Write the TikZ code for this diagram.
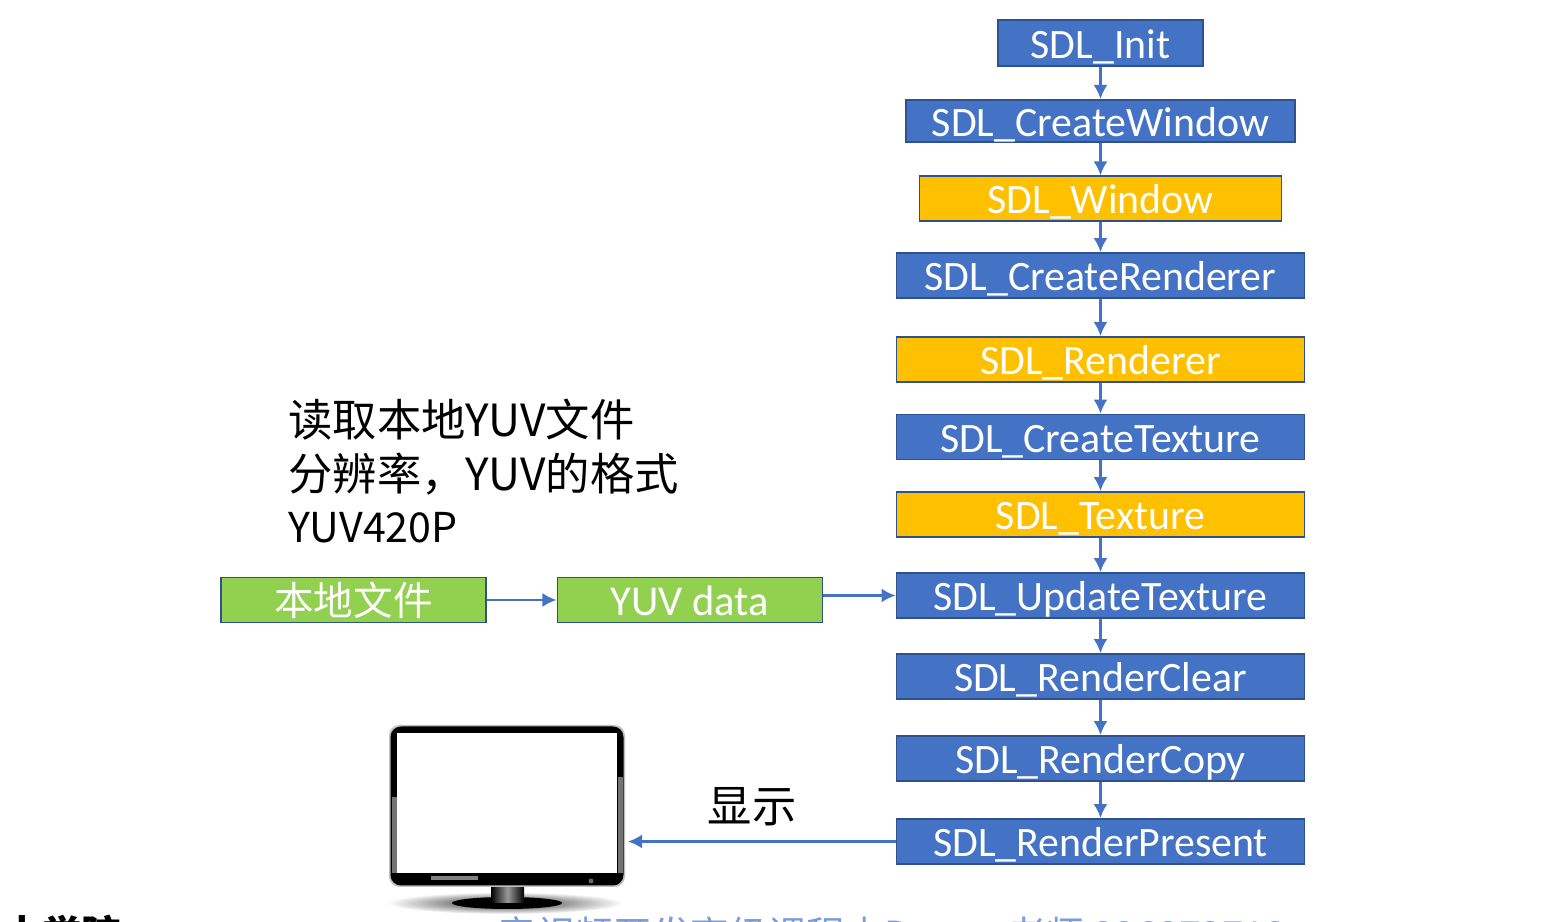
\documentclass[tikz,border=0pt]{standalone}
\usepackage{fontspec}
\usepackage{tikz}
\usetikzlibrary{arrows.meta}
\setmainfont{Carlito}
\newfontfamily\cjk{Noto Sans CJK SC}
\definecolor{sdlblue}{RGB}{68,114,196}
\definecolor{sdledge}{RGB}{47,82,143}
\definecolor{sdlgold}{RGB}{255,192,0}
\definecolor{sdlgreen}{RGB}{146,208,80}
\tikzset{
  sdlbox/.style={draw=sdledge,line width=0.5pt,inner sep=0pt,text=white,text height=8.8pt,text depth=0pt,font=\fontsize{11.9}{15}\selectfont},
  callbox/.style={sdlbox,fill=sdlblue},
  objbox/.style={sdlbox,fill=sdlgold},
  filebox/.style={sdlbox,fill=sdlgreen},
  flow/.style={draw=sdlblue,line width=0.7pt,-{Latex[length=4pt,width=4pt]}},
  note/.style={anchor=west,font=\cjk\fontsize{12.6}{15}\selectfont},
}
\begin{document}
\begin{tikzpicture}[x=0.01cm,y=-0.01cm]
\path[use as bounding box] (0,0) rectangle (1553,922);
\clip (0,0) rectangle (1553,922);

\node[callbox,minimum width=58.2pt,minimum height=13pt] (init) at (1100.5,43) {SDL\_Init};
\node[callbox,minimum width=110.5pt,minimum height=12pt] (cwin) at (1100.5,121) {SDL\_CreateWindow};
\node[objbox,minimum width=103pt,minimum height=12.6pt] (win) at (1100.5,198.5) {SDL\_Window};
\node[callbox,minimum width=116pt,minimum height=12.8pt] (cren) at (1100.5,275.5) {SDL\_CreateRenderer};
\node[objbox,minimum width=116pt,minimum height=12.8pt] (ren) at (1100.5,359.5) {SDL\_Renderer};
\node[callbox,minimum width=116pt,minimum height=12.8pt] (ctex) at (1100.5,437) {SDL\_CreateTexture};
\node[objbox,minimum width=116pt,minimum height=12.8pt] (tex) at (1100.5,514.5) {SDL\_Texture};
\node[callbox,minimum width=116pt,minimum height=12.8pt] (utex) at (1100.5,595.5) {SDL\_UpdateTexture};
\node[callbox,minimum width=116pt,minimum height=12.8pt] (clr) at (1100.5,676.5) {SDL\_RenderClear};
\node[callbox,minimum width=116pt,minimum height=12.8pt] (cpy) at (1100.5,758.5) {SDL\_RenderCopy};
\node[callbox,minimum width=116pt,minimum height=12.8pt] (pres) at (1100.5,841.5) {SDL\_RenderPresent};

\node[filebox,minimum width=75.4pt,minimum height=12.8pt,font=\cjk\fontsize{11.25}{15}\selectfont] (file) at (353.5,600) {本地文件};
\node[filebox,minimum width=75.4pt,minimum height=12.8pt,font=\fontsize{12.1}{15}\selectfont] (yuv) at (690,600) {YUV data};

\node[note] (note1) at (276,420) {读取本地YUV文件};
\node[note] (note2) at (276,474) {分辨率，YUV的格式};
\node[note,font=\cjk\fontsize{11.7}{15}\selectfont] (note3) at (276,528) {YUV420P};
\node[font=\cjk\fontsize{12.6}{15}\selectfont] (show) at (752,807) {显示};

\foreach \a/\b in {init/cwin,cwin/win,win/cren,cren/ren,ren/ctex,ctex/tex,tex/utex,utex/clr,clr/cpy,cpy/pres}
  \draw[flow] (\a) -- (\b);
\draw[flow] (file) -- (yuv);
\draw[flow] (yuv.east |- utex) -- (utex);

% monitor
\coordinate (screen) at (628,841.5);
\draw[flow] (pres) -- (screen);
\shade[inner color=black!85,outer color=white] (505,903) ellipse (118 and 11);
\fill[black] (507,903) ellipse (55 and 6);
\shade[left color=black,right color=black,middle color=black!40] (491,884) rectangle (524,903);
\fill[black!25,rounded corners=3pt] (389,725) rectangle (625,887);
\fill[black,rounded corners=3pt] (390.5,726.5) rectangle (623.5,885.5);
\fill[black!55] (392,797) rectangle (396.5,873);
\fill[black!55] (618,777) rectangle (622.5,873);
\fill[white] (397,733) rectangle (617,873.5);
\fill[black!50] (431,876.5) rectangle (478,880);
\fill[black!60] (591,881) circle (2.5);

\node[anchor=west,font=\cjk\bfseries\fontsize{11.3}{15}\selectfont] (org) at (-10,934) {本学院};
\node[anchor=west,text=sdlblue!70,font=\cjk\fontsize{11}{15}\selectfont] (mark) at (485,935) {音视频开发高级课程由Darren老师 326873713};
\end{tikzpicture}
\end{document}
